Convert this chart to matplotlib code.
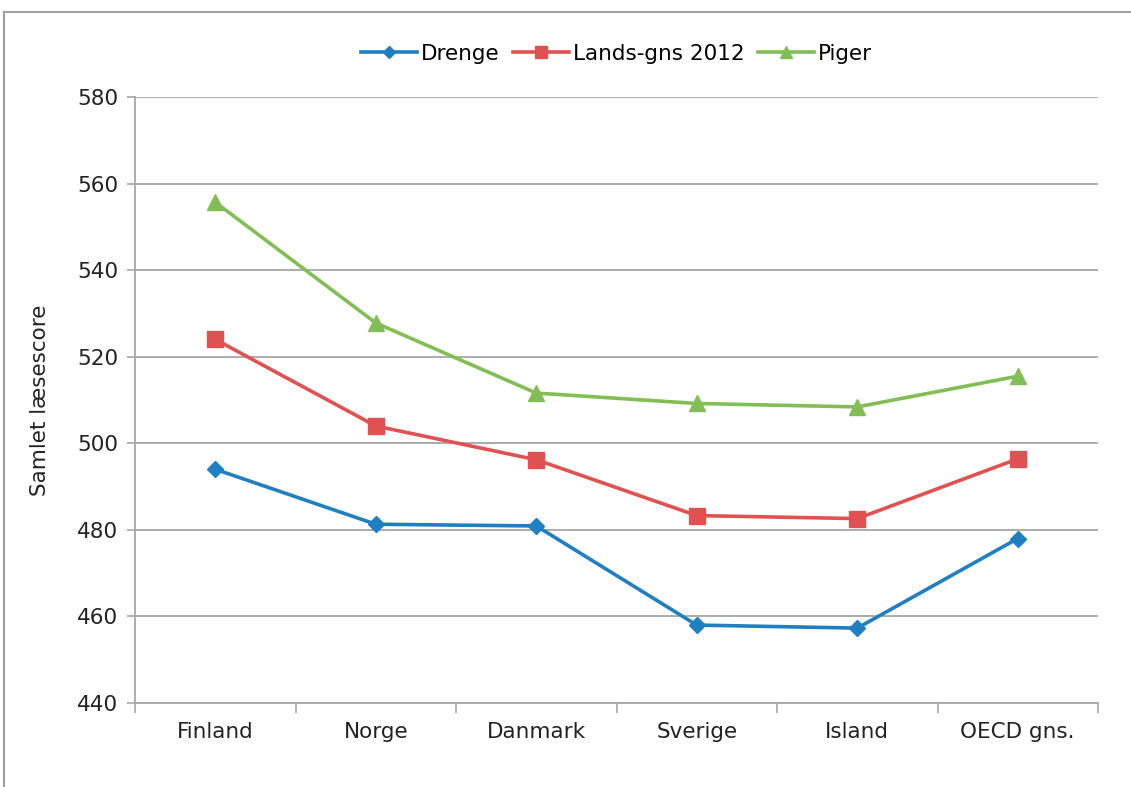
import numpy as np
import matplotlib
matplotlib.use('Agg')
import matplotlib.pyplot as plt
from matplotlib.patches import Rectangle

# data
countries = ['Finland', 'Norge', 'Danmark', 'Sverige', 'Island', 'OECD gns.']
drenge = [494, 481.3, 480.9, 458, 457.3, 478]
lands_gns = [524, 504, 496.2, 483.3, 482.6, 496.4]
piger = [555.7, 527.8, 511.6, 509.2, 508.4, 515.5]
yticks = [440, 460, 480, 500, 520, 540, 560, 580]

plt.rcParams['font.family'] = ['DejaVu Sans']

fig = plt.figure(figsize=(11.31, 7.87), dpi=100)
ax = fig.add_axes([135 / 1131, 1 - 703 / 787, (1098 - 135) / 1131, (703 - 97) / 787])

# chart frame (only left and top edges are visible in the crop)
fig.patches.append(Rectangle((4 / 1131, -0.1), 1.2, 1 - 12 / 787 + 0.1,
                             transform=fig.transFigure, fill=False,
                             edgecolor='#a0a0a0', lw=1.5))

x = np.arange(len(countries))
ax.plot(x, drenge, color='#1f7fc1', lw=2.6, marker='D', ms=8.5, label='Drenge')
ax.plot(x, lands_gns, color='#e05252', lw=2.6, marker='s', ms=11, label='Lands-gns 2012')
ax.plot(x, piger, color='#82be55', lw=2.6, marker='^', ms=11, label='Piger')

ax.set_xlim(-0.5, len(countries) - 0.5)
ax.set_ylim(440, 580)
ax.set_yticks(yticks)
ax.set_xticks(x)
ax.set_xticklabels(countries)
ax.set_xticks(np.arange(-0.5, len(countries)), minor=True)
ax.tick_params(axis='x', which='major', length=0, labelsize=15.5, pad=14, colors='#222222')
ax.tick_params(axis='x', which='minor', length=7, color='#a6a6a6', width=1.2, direction='out')
ax.tick_params(axis='y', length=6, width=1.2, labelsize=15.5, pad=6,
               colors='#a6a6a6', labelcolor='#222222')

ax.yaxis.grid(True, color='#a6a6a6', lw=1.3)
ax.set_axisbelow(True)
for s in ['top', 'right']:
    ax.spines[s].set_visible(False)
for s in ['left', 'bottom']:
    ax.spines[s].set_color('#a6a6a6')
    ax.spines[s].set_linewidth(1.3)

ax.set_ylabel('Samlet læsescore', fontsize=15.5, color='#222222')
ax.yaxis.set_label_coords(-(135 - 50) / 963, 0.5)

leg = ax.legend(loc='center', bbox_to_anchor=(0.5, 1 + 43 / 606), ncol=3, frameon=False,
                fontsize=15.5, handlelength=2.6, columnspacing=0.6, handletextpad=0.2,
                markerscale=0.75)

fig.savefig('out.png', dpi=100)
